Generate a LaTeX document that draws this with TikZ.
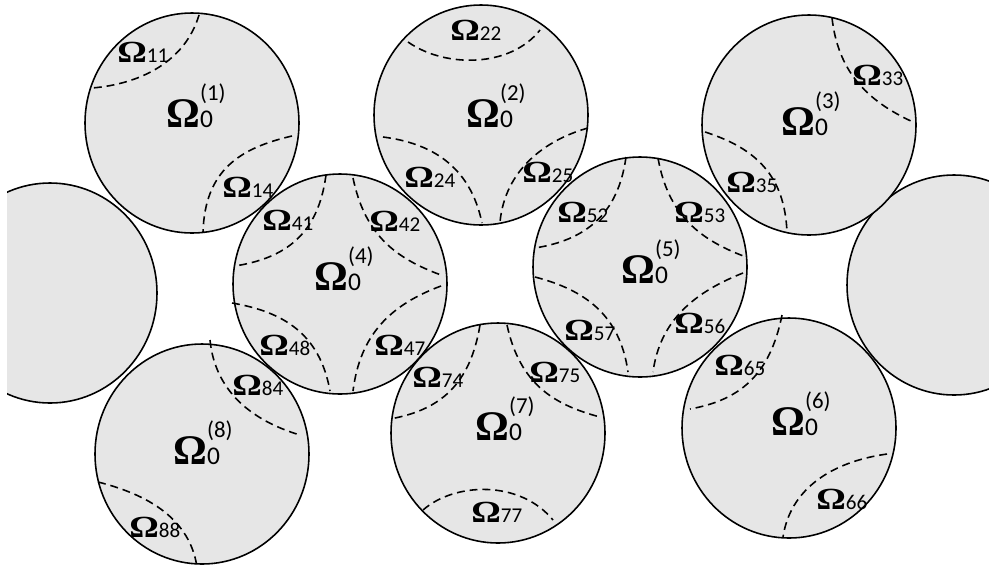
\documentclass[tikz,border=0pt]{standalone}
\usepackage{graphicx}
\usepackage{fontspec}
\setmainfont{Carlito}
\newfontfamily\omfont{Liberation Serif}
\usetikzlibrary{positioning}
\definecolor{grain}{RGB}{230,230,230}
\newcommand{\om}[1]{{\omfont\bfseries\fontsize{17.5}{18}\selectfont\scalebox{1.2}[1]{Ω}}{\fontsize{12}{12}\selectfont #1}}
\newcommand{\omzero}[1]{{\omfont\bfseries\fontsize{24}{24}\selectfont Ω}{\fontsize{14.5}{15}\selectfont\rlap{0}}{\fontsize{13}{13}\selectfont\raisebox{15pt}{(#1)}}}
\tikzset{
	grainy/.style = {fill=grain, draw=black, line width=0.9pt},
	split/.style = {dashed, dash pattern=on 4.5pt off 2.8pt, line width=0.9pt},
	lbl/.style = {inner sep=0pt, anchor=base west}
}

\begin{document}
\begin{tikzpicture}[x=0.02cm,y=-0.02cm]
    \useasboundingbox (0,0) rectangle (989,572);

    \begin{scope}
    \clip (7,0) rectangle (989,572);
    \path[grainy] (50,293) ellipse [x radius=107, y radius=110];
    \end{scope}
    \path[grainy] (954,285) ellipse [x radius=107, y radius=110];
    \path[grainy] (192,123) ellipse [x radius=107, y radius=110];
    \path[grainy] (481,115) ellipse [x radius=107, y radius=110];
    \path[grainy] (809,125) ellipse [x radius=107, y radius=110];
    \path[grainy] (340,284) ellipse [x radius=107, y radius=110];
    \path[grainy] (640,267) ellipse [x radius=107, y radius=110];
    \path[grainy] (789,428) ellipse [x radius=107, y radius=110];
    \path[grainy] (498,433) ellipse [x radius=107, y radius=110];
    \path[grainy] (202,454) ellipse [x radius=107, y radius=110];

    \draw[split] (199,15) .. controls (185,62) and (140,84) .. (92,88);
    \draw[split] (292,136) .. controls (240,148) and (205,170) .. (203,232);

    \draw[split] (408,42) .. controls (445,68) and (510,68) .. (540,30);
    \draw[split] (383,137) .. controls (430,143) and (470,165) .. (482,223);
    \draw[split] (588,128) .. controls (545,140) and (505,170) .. (500,222);

    \draw[split] (832,18) .. controls (838,70) and (865,100) .. (913,122);
    \draw[split] (705,132) .. controls (755,148) and (785,175) .. (787,233);

    \draw[split] (326,175) .. controls (318,235) and (285,258) .. (235,266);
    \draw[split] (353,178) .. controls (365,235) and (395,258) .. (441,275);
    \draw[split] (232,303) .. controls (285,312) and (320,335) .. (330,391);
    \draw[split] (441,286) .. controls (390,305) and (360,335) .. (353,391);

    \draw[split] (626,157) .. controls (618,215) and (585,240) .. (535,248);
    \draw[split] (658,158) .. controls (668,215) and (700,240) .. (746,257);
    \draw[split] (535,277) .. controls (585,290) and (620,315) .. (628,372);
    \draw[split] (743,273) .. controls (695,292) and (660,320) .. (653,372);

    \draw[split] (782,315) .. controls (770,375) and (740,400) .. (690,409);
    \draw[split] (887,454) .. controls (830,462) and (790,490) .. (783,537);

    \draw[split] (480,325) .. controls (470,385) and (440,410) .. (390,419);
    \draw[split] (507,325) .. controls (520,385) and (555,405) .. (600,417);
    \draw[split] (423,510) .. controls (455,482) and (520,480) .. (553,520);

    \draw[split] (210,340) .. controls (215,390) and (250,420) .. (300,435);
    \draw[split] (98,482) .. controls (150,495) and (190,520) .. (197,567);

    \node[lbl] (o1) at (166,127) {\omzero{1}};
    \node[lbl] (o2) at (466,127) {\omzero{2}};
    \node[lbl] (o3) at (781,135) {\omzero{3}};
    \node[lbl] (o4) at (314,290) {\omzero{4}};
    \node[lbl] (o5) at (621,283) {\omzero{5}};
    \node[lbl] (o6) at (771,435) {\omzero{6}};
    \node[lbl] (o7) at (475,440) {\omzero{7}};
    \node[lbl] (o8) at (173,464) {\omzero{8}};

    \node[lbl] (o11) at (117,62) {\om{11}};
    \node[lbl] (o14) at (222,197) {\om{14}};
    \node[lbl] (o22) at (450,40) {\om{22}};
    \node[lbl] (o24) at (404,187) {\om{24}};
    \node[lbl] (o25) at (522,182) {\om{25}};
    \node[lbl] (o33) at (852,85) {\om{33}};
    \node[lbl] (o35) at (726,192) {\om{35}};
    \node[lbl] (o41) at (262,230) {\om{41}};
    \node[lbl] (o42) at (369,231) {\om{42}};
    \node[lbl] (o48) at (259,355) {\om{48}};
    \node[lbl] (o47) at (374,355) {\om{47}};
    \node[lbl] (o52) at (557,222) {\om{52}};
    \node[lbl] (o53) at (674,222) {\om{53}};
    \node[lbl] (o57) at (564,340) {\om{57}};
    \node[lbl] (o56) at (674,333) {\om{56}};
    \node[lbl] (o65) at (714,375) {\om{65}};
    \node[lbl] (o66) at (816,509) {\om{66}};
    \node[lbl] (o74) at (412,387) {\om{74}};
    \node[lbl] (o75) at (529,382) {\om{75}};
    \node[lbl] (o77) at (471,522) {\om{77}};
    \node[lbl] (o84) at (232,395) {\om{84}};
    \node[lbl] (o88) at (129,537) {\om{88}};

\end{tikzpicture}
\end{document}
